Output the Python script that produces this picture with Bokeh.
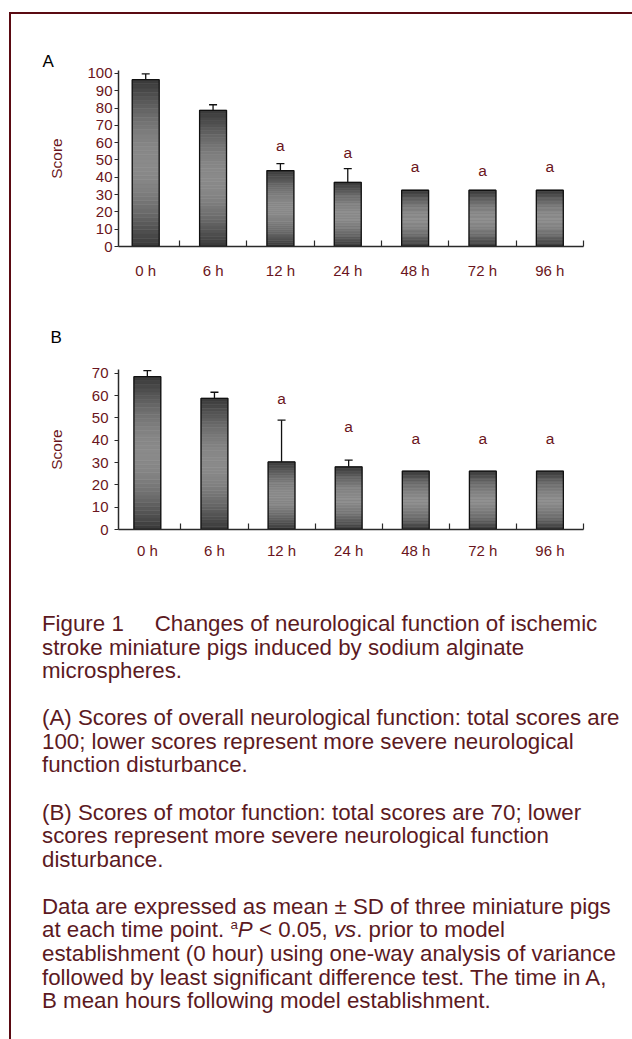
import math
from bokeh.plotting import figure
from bokeh.models import ColumnDataSource, Range1d, FixedTicker, Whisker, TeeHead, Div
from bokeh.layouts import column
from bokeh.embed import file_html
from bokeh.resources import INLINE
from bokeh.core.properties import value

# ---------------- data ----------------
times = ["0 h", "6 h", "12 h", "24 h", "48 h", "72 h", "96 h"]

a_mean = [96.4, 78.7, 43.9, 37.1, 32.5, 32.5, 32.5]
a_sd = [3.3, 3.2, 4.0, 7.9, 0.0, 0.0, 0.0]
a_sig_y = [None, None, 58.3, 54.2, 46.2, 43.9, 46.2]
a_yticks = [0, 10, 20, 30, 40, 50, 60, 70, 80, 90, 100]

b_mean = [68.5, 58.8, 30.3, 28.1, 26.2, 26.2, 26.2]
b_sd = [2.7, 2.7, 18.7, 3.0, 0.0, 0.0, 0.0]
b_sig_y = [None, None, 58.5, 46.0, 40.8, 40.8, 40.8]
b_yticks = [0, 10, 20, 30, 40, 50, 60, 70]

sig_mark = "a"

# ---------------- style ----------------
FONT = "Liberation Sans"
TXT = "#6a1520"
CAP = "#5c1a1f"
BORDER = "#5a0a12"
AXIS = "#2a2a2a"
FIG_W = 620


def gray(t):
    g = int(round(56 + 82 * math.sin(math.pi * t)))
    return "#%02x%02x%02x" % (g, g, g)


def panel(means, sds, sig_y, yticks, letter, ymax, xleft, fw, fh,
          mb_left, mb_top, mb_bottom, ystand, xstand, lab_standoff,
          letter_offset, letter_standoff):
    n = len(times)
    idx = list(range(n))
    p = figure(width=FIG_W, height=mb_top + fh + mb_bottom,
               x_range=Range1d(xleft, n - 0.5), y_range=Range1d(0, ymax),
               output_backend="svg", toolbar_location=None,
               min_border_left=mb_left, min_border_top=mb_top,
               min_border_bottom=mb_bottom,
               min_border_right=FIG_W - mb_left - fw)
    p.outline_line_color = None
    p.grid.visible = False
    p.background_fill_color = None
    p.border_fill_color = None

    # panel letter as the figure title
    p.title.text = letter
    p.title.align = "left"
    p.title.offset = letter_offset
    p.title.standoff = letter_standoff
    p.title.text_font = FONT
    p.title.text_font_size = "17px"
    p.title.text_font_style = "normal"
    p.title.text_color = "#000000"

    # gradient bars built from the values
    N = 40
    xs, bots, tops, cols = [], [], [], []
    for i, m in enumerate(means):
        for k in range(N):
            xs.append(i)
            bots.append(m * k / N)
            tops.append(m * (k + 1) / N)
            cols.append(gray((k + 0.5) / N))
    seg = ColumnDataSource(dict(x=xs, bottom=bots, top=tops, color=cols))
    p.vbar(x="x", bottom="bottom", top="top", width=0.4, source=seg,
           fill_color="color", line_color="color", line_width=0.6)

    src = ColumnDataSource(dict(x=idx, top=means))
    p.vbar(x="x", top="top", width=0.4, source=src, fill_color=None,
           line_color="#111111", line_width=1.3)

    # upper error bars
    ex = [i for i in idx if sds[i] > 0]
    err = ColumnDataSource(dict(x=ex, lo=[means[i] for i in ex],
                                hi=[means[i] + sds[i] for i in ex]))
    p.add_layout(Whisker(source=err, base="x", lower="lo", upper="hi",
                         line_color="#111111", line_width=1.3,
                         upper_head=TeeHead(size=8, line_color="#111111",
                                            line_width=1.3),
                         lower_head=None))

    # significance marks
    sx = [i for i in idx if sig_y[i] is not None]
    ss = ColumnDataSource(dict(x=sx, y=[sig_y[i] for i in sx],
                               t=[sig_mark] * len(sx)))
    p.text(x="x", y="y", text="t", source=ss, text_align="center",
           text_baseline="middle", text_color=TXT,
           text_font=value(FONT), text_font_size="15.5px")

    # axes
    xa = p.xaxis[0]
    xa.ticker = FixedTicker(ticks=idx, minor_ticks=[i + 0.5 for i in idx])
    xa.major_label_overrides = {i: t for i, t in enumerate(times)}
    xa.major_tick_in = 0
    xa.major_tick_out = 0
    xa.minor_tick_in = 6
    xa.minor_tick_out = 0
    xa.minor_tick_line_color = AXIS
    xa.minor_tick_line_width = 1.2
    xa.axis_line_color = AXIS
    xa.axis_line_width = 1.5
    xa.major_label_text_font = FONT
    xa.major_label_text_font_size = "15px"
    xa.major_label_text_color = TXT
    xa.major_label_standoff = xstand

    ya = p.yaxis[0]
    ya.ticker = FixedTicker(ticks=yticks)
    ya.minor_tick_line_color = None
    ya.major_tick_in = 0
    ya.major_tick_out = 4
    ya.major_tick_line_color = AXIS
    ya.axis_line_color = AXIS
    ya.axis_line_width = 1.5
    ya.major_label_text_font = FONT
    ya.major_label_text_font_size = "15px"
    ya.major_label_text_color = TXT
    ya.major_label_standoff = ystand
    ya.axis_label = "Score"
    ya.axis_label_text_font = FONT
    ya.axis_label_text_font_size = "15.5px"
    ya.axis_label_text_font_style = "normal"
    ya.axis_label_text_color = TXT
    ya.axis_label_standoff = lab_standoff
    return p


pA = panel(a_mean, a_sd, a_sig_y, a_yticks, "A", 101.7, -0.404, 466, 176,
           106, 56, 53, 2, 15, 19, -76, 0)
pB = panel(b_mean, b_sd, b_sig_y, b_yticks, "B", 71.7, -0.43, 473, 160,
           107, 70, 66, 6, 12, 24, -68, 46)

caption = (
    '<div style="margin-left:26px;margin-top:12px;font-family:\'Liberation Sans\',Arial,sans-serif;'
    'font-size:22.3px;line-height:23.6px;color:%s;white-space:nowrap;">'
    '<p style="margin:0 0 23.5px 0">Figure 1&nbsp;&nbsp;&nbsp;&nbsp; Changes of neurological function of ischemic<br>'
    'stroke miniature pigs induced by sodium alginate<br>microspheres.</p>'
    '<p style="margin:0 0 23.5px 0">(A) Scores of overall neurological function: total scores are<br>'
    '100; lower scores represent more severe neurological<br>function disturbance.</p>'
    '<p style="margin:0 0 23.5px 0">(B) Scores of motor function: total scores are 70; lower<br>'
    'scores represent more severe neurological function<br>disturbance.</p>'
    '<p style="margin:0">Data are expressed as mean &plusmn; SD of three miniature pigs<br>'
    'at each time point. <sup style="font-size:60%%;line-height:0;vertical-align:super">a</sup><i>P</i> &lt; 0.05, <i>vs</i>. prior to model<br>'
    'establishment (0 hour) using one-way analysis of variance<br>'
    'followed by least significant difference test. The time in A,<br>'
    'B mean hours following model establishment.</p></div>' % CAP
)
cap = Div(text=caption, width=FIG_W, height=440)

layout = column(pA, pB, cap, spacing=0,
                styles={"border-left": "2.5px solid " + BORDER,
                        "border-top": "2.5px solid " + BORDER,
                        "margin-left": "9px", "margin-top": "12px"})

open("out.html", "w").write(file_html(layout, INLINE))
